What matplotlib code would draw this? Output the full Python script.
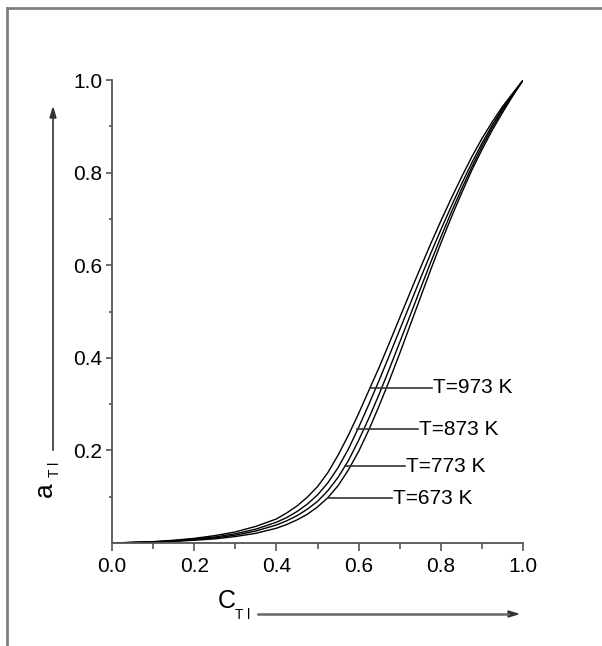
import matplotlib
matplotlib.use("Agg")
import matplotlib.pyplot as plt
from matplotlib.lines import Line2D

plt.rcParams['font.family'] = ['Liberation Sans', 'DejaVu Sans']

# Tl concentration (mole fraction) read along the x axis
c_tl = [0.0, 0.1, 0.15, 0.2, 0.25, 0.3, 0.35, 0.4, 0.425, 0.45, 0.475, 0.5, 0.525, 0.55, 0.575,
        0.6, 0.625, 0.65, 0.675, 0.7, 0.725, 0.75, 0.775, 0.8, 0.825, 0.85, 0.875, 0.9, 0.925,
        0.95, 0.975, 1.0]

# activity of Tl, one curve per temperature
a_973 = [0.0, 0.003, 0.006, 0.010, 0.016, 0.024, 0.036, 0.052, 0.065, 0.080, 0.099, 0.122, 0.152,
         0.190, 0.233, 0.280, 0.330, 0.380, 0.433, 0.487, 0.541, 0.594, 0.646, 0.696, 0.744,
         0.790, 0.834, 0.874, 0.910, 0.943, 0.972, 1.0]
a_873 = [0.0, 0.0025, 0.005, 0.009, 0.013, 0.020, 0.030, 0.045, 0.055, 0.068, 0.084, 0.104, 0.130,
         0.163, 0.203, 0.250, 0.300, 0.352, 0.406, 0.461, 0.516, 0.571, 0.625, 0.677, 0.727,
         0.775, 0.821, 0.864, 0.903, 0.939, 0.970, 1.0]
a_773 = [0.0, 0.002, 0.004, 0.0075, 0.011, 0.017, 0.026, 0.039, 0.048, 0.059, 0.073, 0.090, 0.113,
         0.142, 0.178, 0.222, 0.270, 0.322, 0.377, 0.434, 0.491, 0.549, 0.606, 0.661, 0.714,
         0.764, 0.812, 0.857, 0.898, 0.935, 0.968, 1.0]
a_673 = [0.0, 0.002, 0.0035, 0.006, 0.009, 0.014, 0.021, 0.032, 0.040, 0.050, 0.062, 0.078, 0.098,
         0.124, 0.158, 0.198, 0.245, 0.297, 0.352, 0.410, 0.470, 0.530, 0.590, 0.648, 0.703,
         0.755, 0.805, 0.850, 0.892, 0.930, 0.966, 1.0]

labels = ['T=973 K', 'T=873 K', 'T=773 K', 'T=673 K']
# label leader lines: start on the curve, end at the text
lead_y = [0.335, 0.246, 0.166, 0.097]
lead_x0 = [0.628, 0.596, 0.567, 0.526]
lead_x1 = [0.779, 0.745, 0.713, 0.681]

fig = plt.figure(figsize=(6.02, 6.46), dpi=100)
ax = fig.add_axes([0.186, 0.1594, 0.683, 0.7166])

for a in [a_973, a_873, a_773, a_673]:
    ax.plot(c_tl, a, color='black', lw=1.0)

for lab, y, x0, x1 in zip(labels, lead_y, lead_x0, lead_x1):
    ax.plot([x0, x1], [y, y], color='#333333', lw=1.2)
    ax.text(x1 + 0.002, y, lab, fontsize=15, va='center', ha='left')

ax.set_xlim(0, 1.0)
ax.set_ylim(0, 1.0)
ax.set_xticks([0.0, 0.2, 0.4, 0.6, 0.8, 1.0])
ax.set_xticks([0.1, 0.3, 0.5, 0.7, 0.9], minor=True)
ax.set_yticks([0.2, 0.4, 0.6, 0.8, 1.0])
ax.set_yticks([0.1, 0.3, 0.5, 0.7, 0.9], minor=True)
ax.set_xticklabels(['0.0', '0.2', '0.4', '0.6', '0.8', '1.0'])
ax.set_yticklabels(['0.2', '0.4', '0.6', '0.8', '1.0'])

for s in ['top', 'right']:
    ax.spines[s].set_visible(False)
for s in ['left', 'bottom']:
    ax.spines[s].set_color('#555555')
    ax.spines[s].set_linewidth(1.3)

ax.tick_params(axis='both', which='major', labelsize=15, color='#555555', width=1.2)
ax.tick_params(axis='x', which='major', length=6, pad=4)
ax.tick_params(axis='x', which='minor', length=4, color='#555555', width=1.2)
ax.tick_params(axis='y', which='major', length=4, pad=3)
ax.tick_params(axis='y', which='minor', length=2.5, color='#555555', width=1.2)

# axis titles with arrows, placed in figure pixels
W, H = 602, 646
fig.text(45 / W, 1 - 490 / H, 'a', fontsize=19, rotation=90, ha='center', va='center')
fig.text(55 / W, 1 - 469 / H, 'T l', fontsize=10, rotation=90, ha='center', va='center')
fig.add_artist(Line2D([53 / W, 53 / W], [1 - 450 / H, 1 - 118 / H], color='#333333', lw=1.2))
fig.add_artist(plt.Polygon([[50 / W, 1 - 118 / H], [56 / W, 1 - 118 / H], [53 / W, 1 - 108 / H]],
                           closed=True, color='#333333', transform=fig.transFigure))

fig.text(227 / W, 1 - 601 / H, 'C', fontsize=18, ha='center', va='center')
fig.text(243 / W, 1 - 615 / H, 'T l', fontsize=10, ha='center', va='center')
fig.add_artist(Line2D([258 / W, 508 / W], [1 - 614 / H, 1 - 614 / H], color='#666666', lw=1.8))
fig.add_artist(plt.Polygon([[508 / W, 1 - 611 / H], [508 / W, 1 - 617 / H], [518 / W, 1 - 614 / H]],
                           closed=True, color='#333333', transform=fig.transFigure))

# frame of the original figure (top and left only)
fig.add_artist(Line2D([7 / W, 1.0], [1 - 8 / H, 1 - 8 / H], color='#808080', lw=2))
fig.add_artist(Line2D([7 / W, 7 / W], [0.0, 1 - 8 / H], color='#808080', lw=2))

fig.savefig('out.png', dpi=100)
